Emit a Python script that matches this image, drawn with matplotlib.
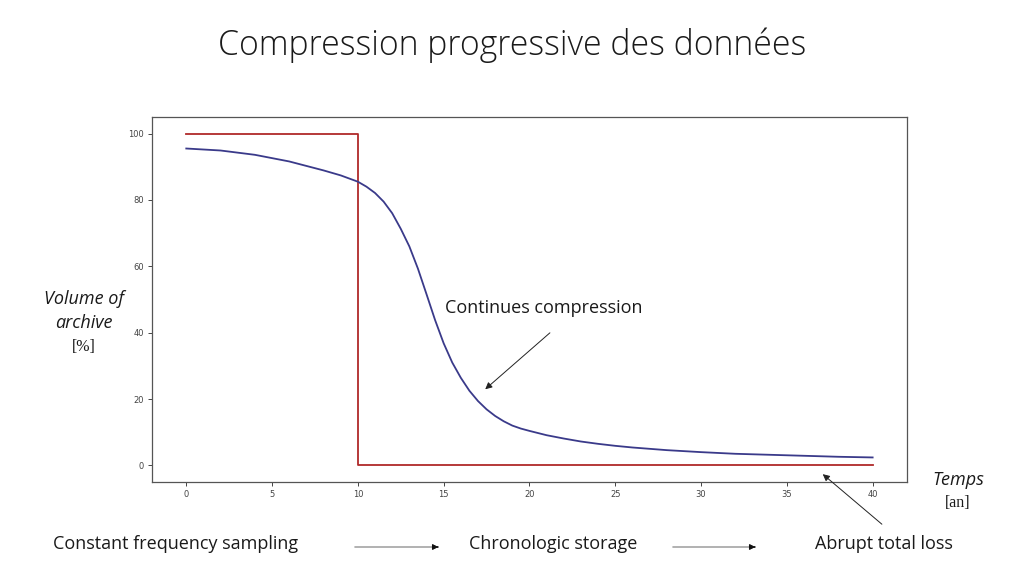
import matplotlib
matplotlib.use("Agg")
import matplotlib.pyplot as plt

# continuous compression curve
years = [0, 2, 4, 6, 8, 9, 10, 10.5, 11, 11.5, 12, 12.5, 13, 13.5, 14, 14.5,
         15, 15.5, 16, 16.5, 17, 17.5, 18, 18.5, 19, 19.5, 20, 21, 22, 23,
         24, 25, 26, 28, 30, 32, 34, 36, 38, 40]
volume = [95.5, 94.9, 93.6, 91.6, 88.9, 87.4, 85.5, 84.0, 82.1, 79.5, 76.0,
          71.3, 66.0, 59.3, 51.6, 43.8, 36.8, 31.0, 26.4, 22.5, 19.4, 16.9,
          14.9, 13.3, 12.0, 11.1, 10.4, 9.1, 8.1, 7.2, 6.5, 5.9, 5.4, 4.6,
          4.0, 3.5, 3.2, 2.9, 2.6, 2.4]

# abrupt loss (step)
step_years = [0, 10, 10, 40]
step_volume = [100, 100, 0, 0]

title = "Compression progressive des données"
steps = ["Constant frequency sampling", "Chronologic storage", "Abrupt total loss"]

fig = plt.figure(figsize=(10.24, 5.76), dpi=100)
ax = fig.add_axes([0.1484, 0.1632, 0.7373, 0.6337])

ax.plot(step_years, step_volume, color="#b02a2a", lw=1.3)
ax.plot(years, volume, color="#3a3a8a", lw=1.3)

ax.set_xticks(range(0, 41, 5))
ax.set_yticks(range(0, 101, 20))
ax.tick_params(labelsize=6, colors="#444444", length=3, width=0.7, pad=3)
for s in ax.spines.values():
    s.set_color("#555555")
    s.set_linewidth(0.9)

txt = dict(family="Open Sans", color="#1a1a1a")

fig.text(0.5, 1 - 45 / 576, title, ha="center", va="center", fontsize=24.3,
         fontweight="light", **txt)

fig.text(84 / 1024, 1 - 311 / 576, "Volume of\narchive", ha="center", va="center",
         fontsize=13, style="italic", linespacing=1.4, **txt)
fig.text(84 / 1024, 1 - 347 / 576, "[%]", ha="center", va="center",
         fontsize=11.5, family="Liberation Serif", color="#1a1a1a")
fig.text(958 / 1024, 1 - 480 / 576, "Temps", ha="center", va="center",
         fontsize=13, style="italic", **txt)
fig.text(958 / 1024, 1 - 503 / 576, "[an]", ha="center", va="center",
         fontsize=11.5, family="Liberation Serif", color="#1a1a1a")

fig.text(544 / 1024, 1 - 308 / 576, "Continues compression", ha="center",
         va="center", fontsize=13, **txt)
ax.annotate("", xy=(17.3, 22.4), xycoords="data",
            xytext=(552, 576 - 331), textcoords="figure pixels",
            arrowprops=dict(arrowstyle="-|>", color="#222222", lw=0.7,
                            mutation_scale=10))
ax.annotate("", xy=(36.97, -2.1), xycoords="data",
            xytext=(884, 576 - 526), textcoords="figure pixels",
            arrowprops=dict(arrowstyle="-|>", color="#222222", lw=0.7,
                            mutation_scale=10), annotation_clip=False)

for label, xc in zip(steps, [176, 553, 884]):
    fig.text(xc / 1024, 1 - 544 / 576, label, ha="center", va="center",
             fontsize=13, **txt)

for x0, x1 in [(352, 441), (670, 758)]:
    fig.patches.append(matplotlib.patches.FancyArrowPatch(
        (x0, 576 - 547), (x1, 576 - 547), transform=None,
        arrowstyle="-|>", color="#777777", lw=0.8, mutation_scale=8))
    fig.patches.append(matplotlib.patches.FancyArrowPatch(
        (x1 - 6, 576 - 547), (x1, 576 - 547), transform=None,
        arrowstyle="-|>", color="#111111", lw=0.8, mutation_scale=8))

fig.savefig("out.png", dpi=100)
